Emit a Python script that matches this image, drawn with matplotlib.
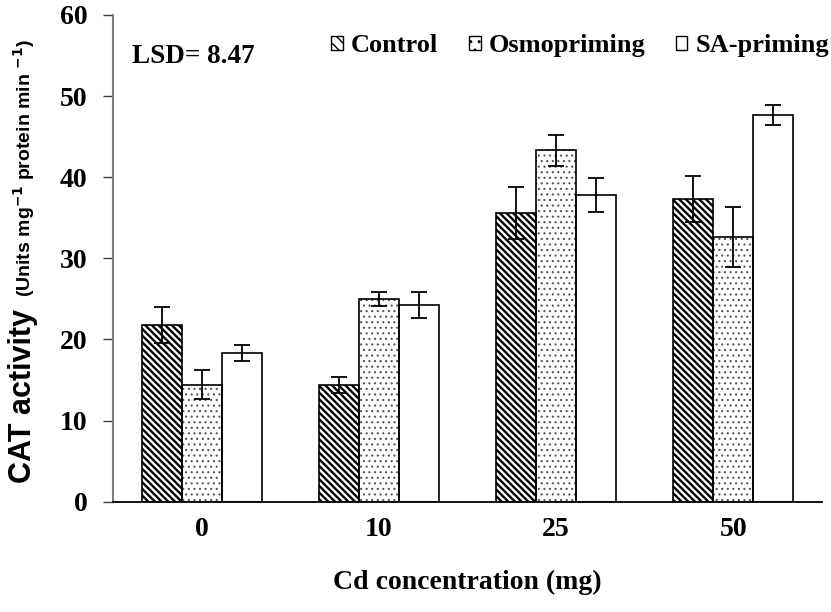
import numpy as np
import matplotlib.pyplot as plt
from matplotlib.patches import Patch

# data
doses = ['0', '10', '25', '50']
control = [21.8, 14.4, 35.6, 37.3]
control_err = [2.2, 1.0, 3.2, 2.8]
osmo = [14.4, 25.0, 43.3, 32.6]
osmo_err = [1.8, 0.9, 1.9, 3.7]
sa = [18.3, 24.3, 37.8, 47.7]
sa_err = [1.0, 1.6, 2.1, 1.2]
series_names = ['Control', 'Osmopriming', 'SA-priming']
lsd_text = 'LSD= 8.47'

serif = ['Liberation Serif', 'DejaVu Serif']
sans = ['Liberation Sans', 'DejaVu Sans']

fig = plt.figure(figsize=(8.31, 6.12), dpi=100, facecolor='white')
W, H = 831, 612
ax = fig.add_axes([113 / W, 1 - 501.7 / H, (822 - 113) / W, (501.7 - 15) / H])

x = np.arange(len(doses))
w = 0.226
# hatch, hatch colour, hatch line width per series
styles = [('\\\\\\\\\\', 'black', 1.7), ('...', '#555555', 0.8), ('', 'black', 1.0)]
values = [control, osmo, sa]
errors = [control_err, osmo_err, sa_err]

for i, (vals, errs, st) in enumerate(zip(values, errors, styles)):
    hatch, hcol, hlw = st
    pos = x + (i - 1) * w
    with plt.rc_context({'hatch.linewidth': hlw}):
        # hatch layer, edge colour drives hatch colour
        ax.bar(pos, vals, w, color='white', edgecolor=hcol, linewidth=0,
               hatch=hatch, zorder=2)
    ax.bar(pos, vals, w, color='none', edgecolor='black', linewidth=1.2, zorder=2.5)
    ax.errorbar(pos, vals, yerr=errs, fmt='none', ecolor='black',
                elinewidth=1.3, capsize=5.5, capthick=1.3, zorder=3)

ax.set_xlim(-0.5, 3.5)
ax.set_ylim(0, 60)
ax.set_yticks(np.arange(0, 61, 10))
ax.set_xticks(x)
ax.set_xticklabels(doses)

for s in ['top', 'right']:
    ax.spines[s].set_visible(False)
ax.spines['left'].set_color('#808080')
ax.spines['left'].set_linewidth(1.5)
ax.spines['bottom'].set_color('black')
ax.spines['bottom'].set_linewidth(1.3)

ax.tick_params(axis='y', direction='out', length=7.5, width=1.0, color='#404040',
               pad=11)
ax.tick_params(axis='x', length=0, pad=11)
for lab in ax.get_xticklabels() + ax.get_yticklabels():
    lab.set_family(serif)
    lab.set_fontweight('bold')
    lab.set_fontsize(20)

ax.set_xlabel('Cd concentration (mg)', family=serif, fontweight='bold',
              fontsize=20, labelpad=20)

# y label in two sizes
fig.text(31 / W, 1 - 396 / H, 'CAT activity', rotation=90, rotation_mode='anchor',
         ha='center', va='baseline', family=sans, fontweight='bold', fontsize=22)
fig.text(31 / W, 1 - 168 / H, r'(Units mg$^{\mathbf{-1}}$ protein min $^{\mathbf{-1}}$)',
         rotation=90, rotation_mode='anchor', ha='center', va='baseline',
         family=sans, fontweight='bold', fontsize=14)

fig.text(132 / W, 1 - 63 / H, lsd_text, family=serif, fontweight='bold',
         fontsize=19.5, ha='left', va='baseline')

with plt.rc_context({'hatch.linewidth': 1.0}):
    handles = [Patch(facecolor='white', edgecolor='black', hatch=h, linewidth=1.0)
               for h in ['\\\\\\', '..', '']]
leg = ax.legend(handles, series_names, ncol=3, frameon=False,
                loc='upper right', bbox_to_anchor=(829 / W, 1 - 34 / H),
                bbox_transform=fig.transFigure,
                prop={'family': serif, 'weight': 'bold', 'size': 19},
                handlelength=0.45, handleheight=0.45, handletextpad=0.3,
                columnspacing=1.15, borderpad=0, borderaxespad=0)

plt.savefig('out.png', dpi=100, facecolor='white')
